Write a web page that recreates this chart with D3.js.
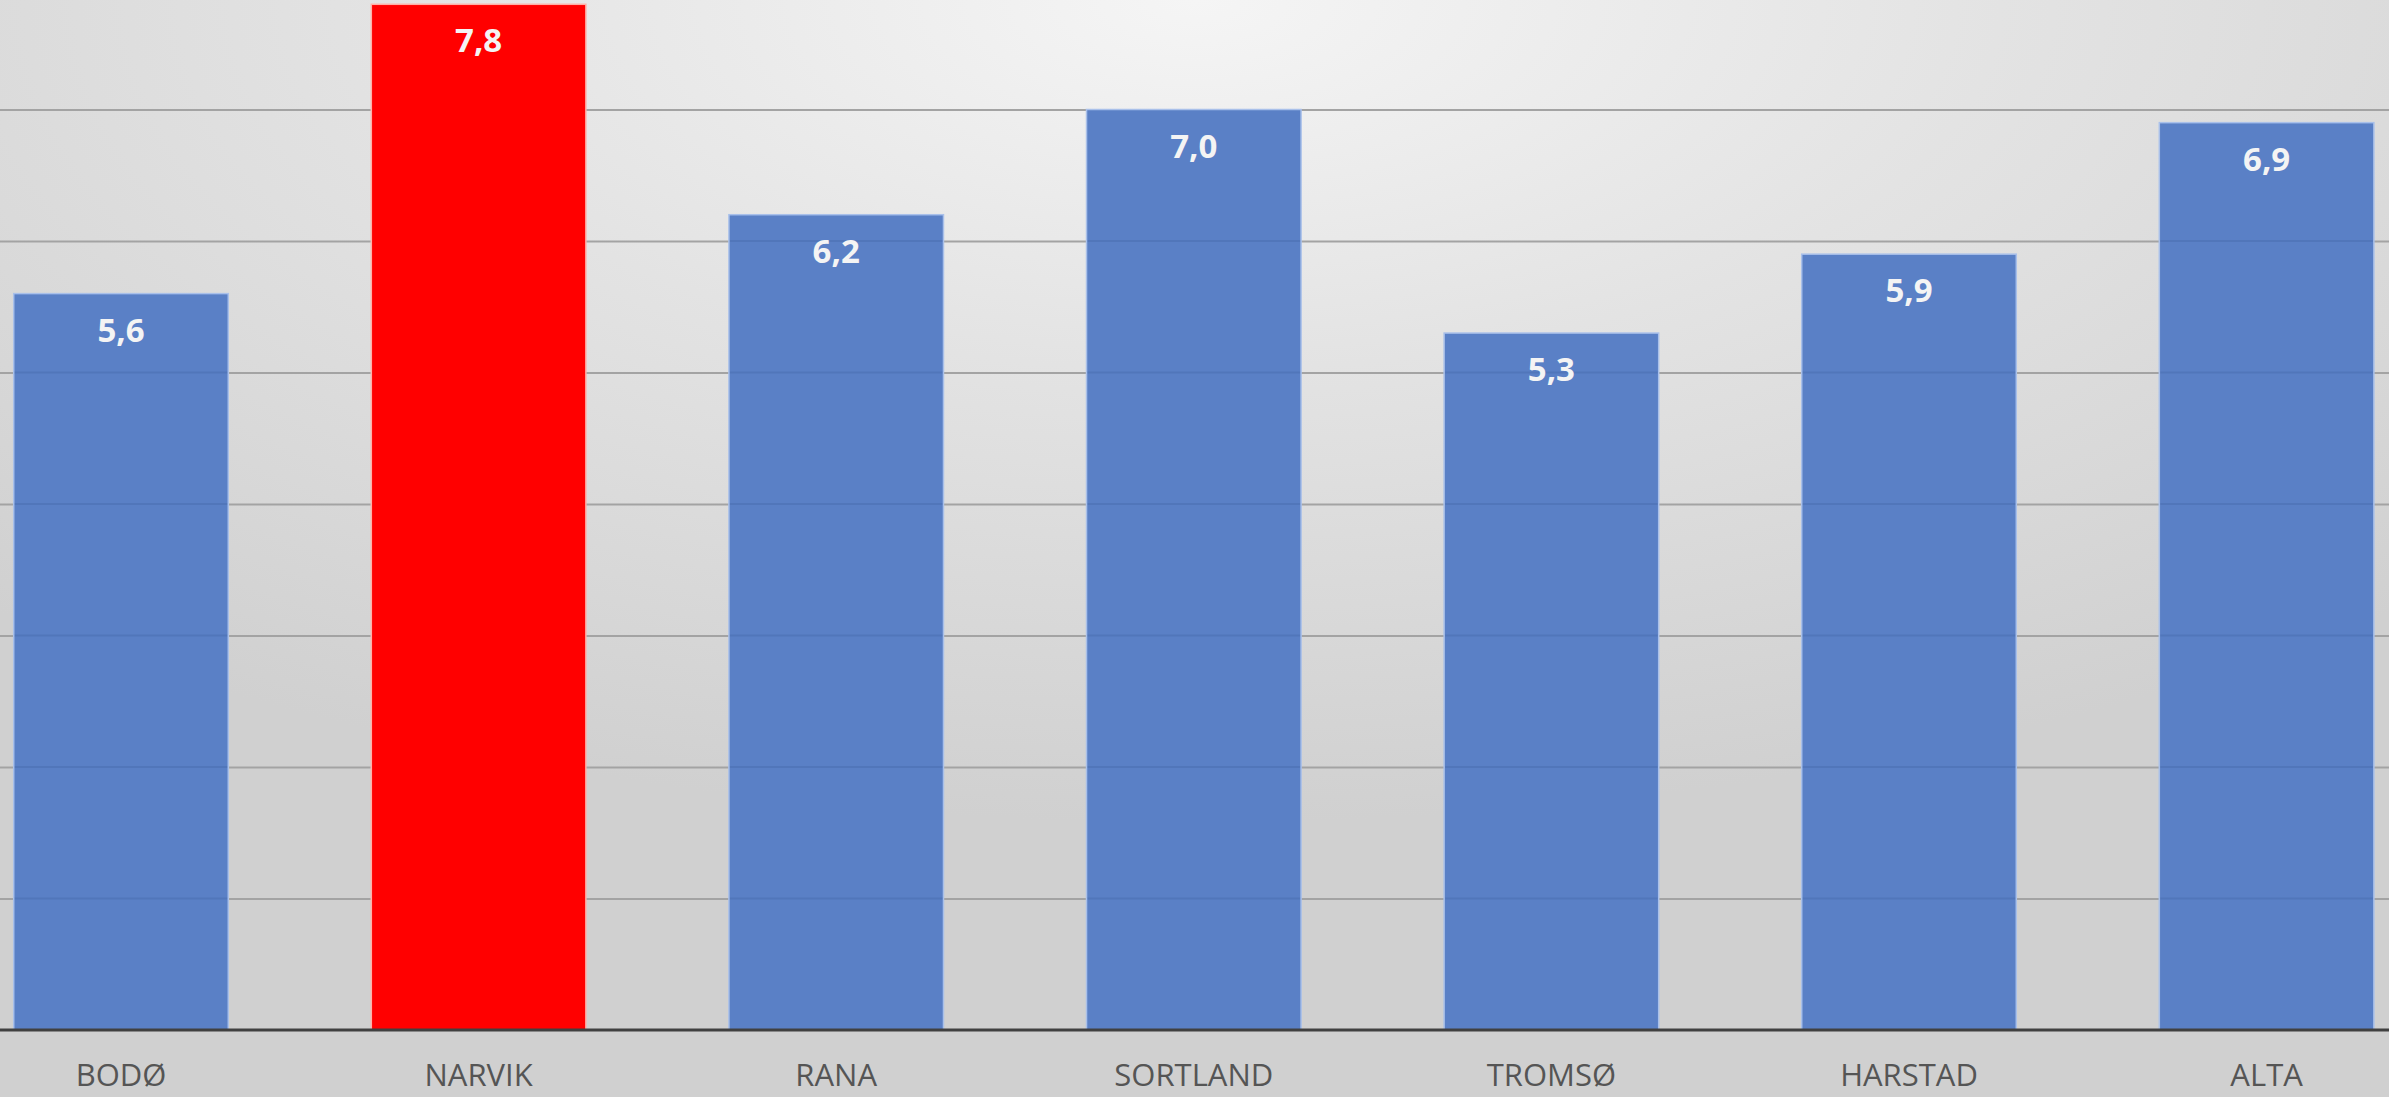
<!DOCTYPE html>
<html>
<head>
<meta charset="utf-8">
<script src="https://cdn.jsdelivr.net/npm/d3@7"></script>
<style>
  html, body { margin: 0; padding: 0; overflow: hidden; background: #dcdcdc; }
  svg { display: block; }
</style>
</head>
<body>
<svg id="chart" width="2389" height="1097"></svg>
<script>
// ---- data ----
const categories = ["BODØ", "NARVIK", "RANA", "SORTLAND", "TROMSØ", "HARSTAD", "ALTA"];
const values = [5.6, 7.8, 6.2, 7.0, 5.3, 5.9, 6.9];
const highlighted = ["NARVIK"];
const gridTicks = [1, 2, 3, 4, 5, 6, 7];
const yDomain = [0, 8];

// ---- layout ----
const W = 2389, H = 1097;
const svg = d3.select("#chart");

const defs = svg.append("defs");
const grad = defs.append("radialGradient")
  .attr("id", "bg").attr("cx", "50%").attr("cy", "0%").attr("r", "75%")
  .attr("gradientUnits", "objectBoundingBox");
grad.append("stop").attr("offset", "0%").attr("stop-color", "#f5f5f5");
grad.append("stop").attr("offset", "45%").attr("stop-color", "#e3e3e3");
grad.append("stop").attr("offset", "100%").attr("stop-color", "#d0d0d0");

svg.append("rect").attr("width", W).attr("height", H).attr("fill", "url(#bg)");

const x = d3.scaleBand()
  .domain(categories)
  .range([-57.8, -57.8 + 7 * 357.6])
  .paddingInner(0.4)
  .paddingOuter(0.2);

const y = d3.scaleLinear().domain(yDomain).range([1030, 1030 - 8 * 131.5]);

// grid lines
const grid = svg.append("g")
  .attr("transform", `translate(${W},0)`)
  .call(d3.axisLeft(y).tickValues(gridTicks).tickSize(W).tickFormat(""));
grid.select(".domain").remove();
grid.selectAll(".tick line")
  .attr("stroke", "#a3a3a3").attr("stroke-width", 2);

// bars
const fmt = d3.formatLocale({ decimal: ",", thousands: " ", grouping: [3], currency: ["", " kr"] }).format(".1f");

svg.append("g").selectAll("rect")
  .data(categories)
  .join("rect")
  .attr("x", d => x(d))
  .attr("width", x.bandwidth())
  .attr("y", (d, i) => y(values[i]))
  .attr("height", (d, i) => y(0) - y(values[i]))
  .attr("fill", d => highlighted.includes(d) ? "#ff0000" : "#5a80c6")
  .attr("stroke", d => highlighted.includes(d) ? "#ffb0a8" : "#a9c0ea")
  .attr("stroke-width", 1.5);

// faint gridlines seen through the blue bars
svg.append("g").selectAll("g")
  .data(categories.filter(c => !highlighted.includes(c)))
  .join("g")
  .each(function (c) {
    const v = values[categories.indexOf(c)];
    d3.select(this).selectAll("line")
      .data(gridTicks.filter(t => t < v))
      .join("line")
      .attr("x1", x(c) + 1).attr("x2", x(c) + x.bandwidth() - 1)
      .attr("y1", t => y(t)).attr("y2", t => y(t))
      .attr("stroke", "#3f5f9f").attr("stroke-opacity", 0.3).attr("stroke-width", 2);
  });

// value labels
svg.append("g").selectAll("text")
  .data(categories)
  .join("text")
  .attr("x", d => x(d) + x.bandwidth() / 2)
  .attr("y", (d, i) => y(values[i]) + 48)
  .attr("text-anchor", "middle")
  .attr("font-family", "'Open Sans', sans-serif")
  .attr("font-weight", "bold")
  .attr("font-size", 33)
  .attr("fill", "#f4f4f4")
  .text((d, i) => fmt(values[i]));

// baseline axis with category labels
const xAxis = svg.append("g")
  .attr("transform", `translate(0,${y(0)})`)
  .call(d3.axisBottom(x).tickSize(0).tickPadding(34));
xAxis.select(".domain").remove();
xAxis.append("line")
  .attr("x1", 0).attr("x2", W).attr("y1", 0).attr("y2", 0)
  .attr("stroke", "#404040").attr("stroke-width", 3);
xAxis.selectAll(".tick text")
  .attr("font-family", "'Open Sans', sans-serif")
  .attr("font-size", 31)
  .attr("fill", "#555555")
  .attr("dy", "0.71em");
</script>
</body>
</html>
